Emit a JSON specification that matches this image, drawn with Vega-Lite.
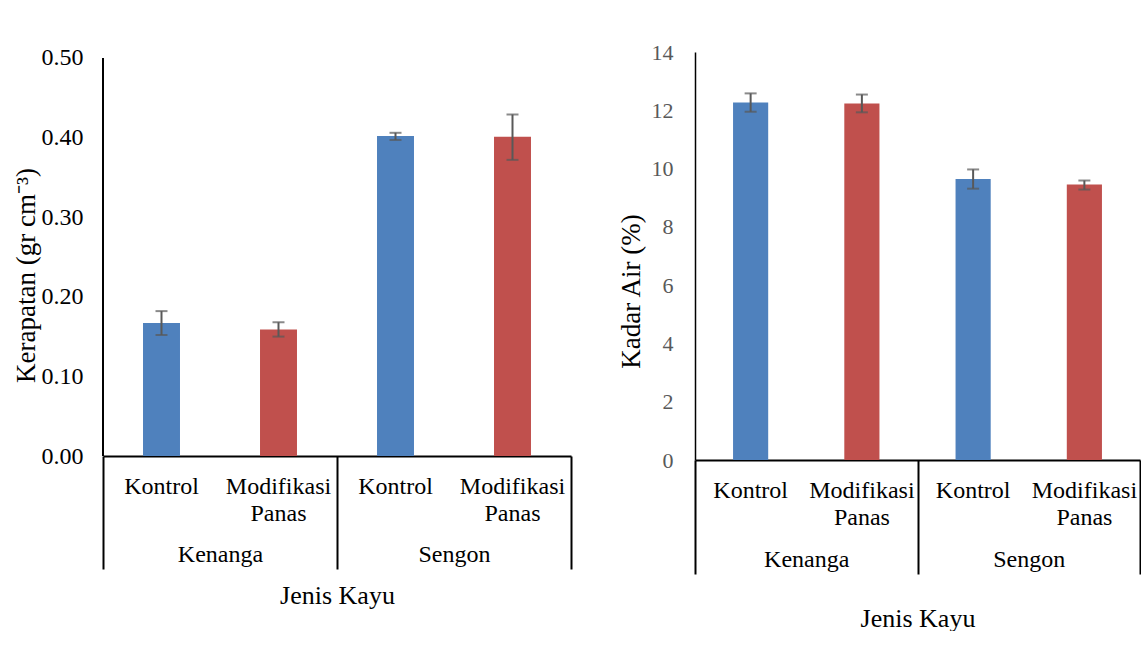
{
  "$schema": "https://vega.github.io/schema/vega-lite/v6.json",
  "padding": {"top": 41, "left": 12, "right": 0, "bottom": 0},
  "background": "white",
  "spacing": 45,
  "data": {"values": [
    {"key": "Kenanga|Kontrol", "group": "Kenanga", "perlakuan": "Kontrol", "kerapatan": 0.167, "k_lo": 0.152, "k_hi": 0.182, "kadar": 12.27, "a_lo": 11.95, "a_hi": 12.58},
    {"key": "Kenanga|Modifikasi Panas", "group": "Kenanga", "perlakuan": "Modifikasi Panas", "kerapatan": 0.159, "k_lo": 0.150, "k_hi": 0.168, "kadar": 12.23, "a_lo": 11.93, "a_hi": 12.54},
    {"key": "Sengon|Kontrol", "group": "Sengon", "perlakuan": "Kontrol", "kerapatan": 0.402, "k_lo": 0.397, "k_hi": 0.406, "kadar": 9.64, "a_lo": 9.31, "a_hi": 9.97},
    {"key": "Sengon|Modifikasi Panas", "group": "Sengon", "perlakuan": "Modifikasi Panas", "kerapatan": 0.401, "k_lo": 0.372, "k_hi": 0.429, "kadar": 9.45, "a_lo": 9.28, "a_hi": 9.59}
  ]},
  "config": {
    "font": "Liberation Serif",
    "view": {"stroke": null},
    "axis": {
      "labelFont": "Liberation Serif", "titleFont": "Liberation Serif",
      "labelFontSize": 24, "titleFontSize": 26, "labelColor": "black", "titleColor": "black",
      "titleFontWeight": "normal", "grid": false, "domainColor": "black", "tickColor": "black"
    }
  },
  "hconcat": [
    {
      "width": 468, "height": 404,
      "layer": [
        {
          "layer": [
            {
              "mark": {"type": "bar", "width": {"band": 0.316}},
              "encoding": {
                "x": {"field": "key", "type": "nominal", "sort": null, "scale": {"paddingInner": 0, "paddingOuter": 0},
                  "axis": {"title": null, "labelExpr": "split(split(datum.value,'|')[1],' ')", "labelAngle": 0, "ticks": false, "labelPadding": 18, "domainWidth": 2, "labelLineHeight": 27}},
                "y": {"field": "kerapatan", "type": "quantitative", "scale": {"domain": [0, 0.5075], "nice": false},
                  "axis": {"values": [0, 0.1, 0.2, 0.3, 0.4, 0.5], "format": ".2f", "ticks": false, "domain": false, "labelPadding": 20, "title": "Kerapatan (gr cm⁻³)", "titleFontSize": 27, "titleY": 223, "titlePadding": 1}},
                "color": {"field": "perlakuan", "type": "nominal", "scale": {"domain": ["Kontrol", "Modifikasi Panas"], "range": ["#4F81BD", "#C0504D"]}, "legend": null}
              }
            },
            {
              "mark": {"type": "rule", "color": "black", "strokeWidth": 1.5},
              "encoding": {
                "x": {"datum": "Kenanga|Kontrol", "type": "nominal", "bandPosition": 0},
                "y": {"datum": 0, "type": "quantitative"},
                "y2": {"datum": 0.5}
              }
            },
            {
              "mark": {"type": "rule", "color": "#595959", "strokeWidth": 2},
              "encoding": {
                "x": {"field": "key", "type": "nominal", "sort": null},
                "y": {"field": "k_lo", "type": "quantitative"},
                "y2": {"field": "k_hi"}
              }
            },
            {
              "mark": {"type": "tick", "color": "#595959", "thickness": 2, "size": 12},
              "encoding": {
                "x": {"field": "key", "type": "nominal", "sort": null},
                "y": {"field": "k_lo", "type": "quantitative"}
              }
            },
            {
              "mark": {"type": "tick", "color": "#595959", "thickness": 2, "size": 12},
              "encoding": {
                "x": {"field": "key", "type": "nominal", "sort": null},
                "y": {"field": "k_hi", "type": "quantitative"}
              }
            }
          ]
        },
        {
          "mark": {"type": "text", "text": ""},
          "encoding": {
            "x": {"field": "group", "type": "nominal", "sort": null, "scale": {"paddingInner": 0, "paddingOuter": 0},
              "axis": {"orient": "bottom", "title": "Jenis Kayu", "tickBand": "extent", "tickSize": 113, "tickWidth": 2, "domain": false, "labelPadding": -27, "titlePadding": 12, "labelAngle": 0}}
          }
        }
      ],
      "resolve": {"scale": {"x": "independent"}, "axis": {"x": "independent"}}
    },
    {
      "width": 445, "height": 408,
      "layer": [
        {
          "layer": [
            {
              "mark": {"type": "bar", "width": {"band": 0.316}},
              "encoding": {
                "x": {"field": "key", "type": "nominal", "sort": null, "scale": {"paddingInner": 0, "paddingOuter": 0},
                  "axis": {"title": null, "labelExpr": "split(split(datum.value,'|')[1],' ')", "labelAngle": 0, "ticks": false, "labelPadding": 18, "domainWidth": 2, "labelLineHeight": 27}},
                "y": {"field": "kadar", "type": "quantitative", "scale": {"domain": [0, 14]},
                  "axis": {"values": [0, 2, 4, 6, 8, 10, 12, 14], "ticks": false, "labelPadding": 22, "labelFontSize": 22, "labelColor": "#595959", "title": "Kadar Air (%)", "titleFontSize": 27, "titleY": 239, "titlePadding": 6, "domainWidth": 1.5}},
                "color": {"field": "perlakuan", "type": "nominal", "scale": {"domain": ["Kontrol", "Modifikasi Panas"], "range": ["#4F81BD", "#C0504D"]}, "legend": null}
              }
            },
            {
              "mark": {"type": "rule", "color": "#595959", "strokeWidth": 2},
              "encoding": {
                "x": {"field": "key", "type": "nominal", "sort": null},
                "y": {"field": "a_lo", "type": "quantitative"},
                "y2": {"field": "a_hi"}
              }
            },
            {
              "mark": {"type": "tick", "color": "#595959", "thickness": 2, "size": 12},
              "encoding": {
                "x": {"field": "key", "type": "nominal", "sort": null},
                "y": {"field": "a_lo", "type": "quantitative"}
              }
            },
            {
              "mark": {"type": "tick", "color": "#595959", "thickness": 2, "size": 12},
              "encoding": {
                "x": {"field": "key", "type": "nominal", "sort": null},
                "y": {"field": "a_hi", "type": "quantitative"}
              }
            }
          ]
        },
        {
          "mark": {"type": "text", "text": ""},
          "encoding": {
            "x": {"field": "group", "type": "nominal", "sort": null, "scale": {"paddingInner": 0, "paddingOuter": 0},
              "axis": {"orient": "bottom", "title": "Jenis Kayu", "tickBand": "extent", "tickSize": 114, "tickWidth": 2, "domain": false, "labelPadding": -27, "titlePadding": 30, "labelAngle": 0}}
          }
        }
      ],
      "resolve": {"scale": {"x": "independent"}, "axis": {"x": "independent"}}
    }
  ]
}
